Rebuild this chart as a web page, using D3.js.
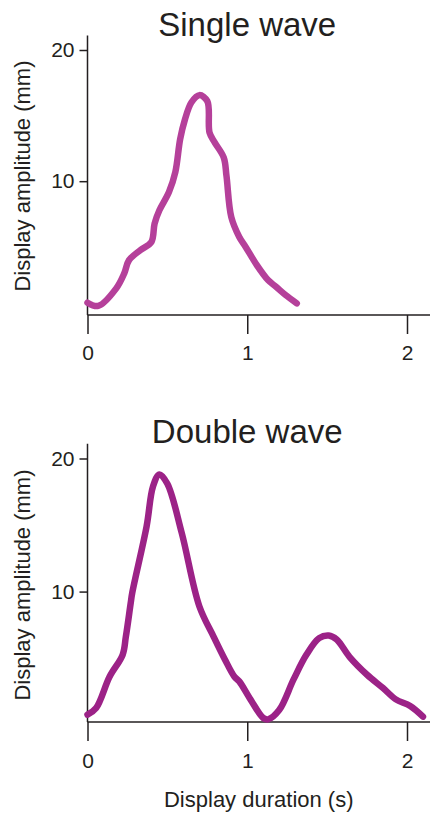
<!DOCTYPE html>
<html>
<head>
<meta charset="utf-8">
<script src="https://cdnjs.cloudflare.com/ajax/libs/d3/7.8.5/d3.min.js"></script>
<style>
  body { margin: 0; background: #fff; }
  svg { display: block; }
</style>
</head>
<body>
<div id="chart"></div>
<script>
// Single wave trace: time (s) and amplitude (mm)
const singleT = [0, 0.067, 0.18, 0.23, 0.26, 0.33, 0.40, 0.42, 0.45, 0.51, 0.55, 0.58, 0.61, 0.65, 0.70, 0.75, 0.764, 0.796, 0.853, 0.87, 0.90, 0.95, 0.99, 1.06, 1.13, 1.18, 1.24, 1.31];
const singleA = [0.74, 0.49, 1.83, 2.97, 3.98, 4.74, 5.37, 6.77, 7.78, 9.17, 10.7, 13.2, 14.7, 16.0, 16.56, 16.1, 13.7, 12.96, 11.8, 10.4, 7.27, 5.75, 4.99, 3.6, 2.46, 1.95, 1.32, 0.69];

// Double wave trace
const doubleT = [0, 0.054, 0.138, 0.22, 0.24, 0.27, 0.28, 0.37, 0.41, 0.45, 0.50, 0.59, 0.70, 0.79, 0.86, 0.92, 0.95, 1.02, 1.10, 1.13, 1.20, 1.29, 1.37, 1.45, 1.51, 1.56, 1.64, 1.75, 1.85, 1.93, 2.02, 2.10];
const doubleA = [0.75, 1.25, 3.6, 5.25, 6.6, 9.1, 9.9, 14.9, 17.9, 18.8, 18.1, 14.4, 8.9, 6.6, 4.9, 3.6, 3.25, 1.9, 0.5, 0.4, 1.1, 3.4, 5.25, 6.5, 6.7, 6.4, 5.1, 3.75, 2.75, 1.9, 1.4, 0.6];

const xTicks = [0, 1, 2];
const yTicks = [10, 20];
const titles = ["Single wave", "Double wave"];
const yLabel = "Display amplitude (mm)";
const xLabel = "Display duration (s)";

const width = 430, height = 815;
const ink = "#231f20";

const svg = d3.select("#chart").append("svg")
  .attr("width", width)
  .attr("height", height);

const x = d3.scaleLinear().domain([0, 2]).range([87.5, 407]);

const panels = [
  { title: titles[0], t: singleT, a: singleA, color: "#b5409a",
    axisY: 315, tick20: 50, yLo: -0.2, titleY: 36, labelY: 176, tickLabelY: 360 },
  { title: titles[1], t: doubleT, a: doubleA, color: "#9c2287",
    axisY: 722, tick20: 458.5, yLo: 0.2, titleY: 443, labelY: 585, tickLabelY: 768 }
];

const font = "'Liberation Sans', Arial, Helvetica, sans-serif";

panels.forEach(p => {
  const y = d3.scaleLinear().domain([p.yLo, 20]).range([p.axisY, p.tick20]);
  const g = svg.append("g");

  // title
  g.append("text")
    .attr("x", x(1))
    .attr("y", p.titleY)
    .attr("text-anchor", "middle")
    .style("font-family", font)
    .style("font-size", "33px")
    .style("fill", ink)
    .text(p.title);

  // y axis
  const yAxis = g.append("g")
    .attr("transform", `translate(${x(0)},0)`)
    .call(d3.axisLeft(y).tickValues(yTicks).tickFormat(d3.format("d"))
      .tickSize(8).tickPadding(5).tickSizeOuter(0));
  yAxis.select(".domain").attr("d", `M0,${y(21.1)}V${p.axisY}`);

  // x axis
  const xAxis = g.append("g")
    .attr("transform", `translate(0,${p.axisY})`)
    .call(d3.axisBottom(x).tickValues(xTicks).tickFormat(d3.format("d"))
      .tickSize(19).tickPadding(8).tickSizeOuter(0));
  xAxis.select(".domain").attr("d", `M${x(0)},0H${width}`);

  [yAxis, xAxis].forEach(ax => {
    ax.selectAll(".domain, line").attr("stroke", ink).attr("stroke-width", 1.5);
    ax.selectAll("text")
      .style("font-family", font)
      .style("font-size", "21px")
      .style("fill", ink);
  });
  xAxis.selectAll("text").attr("y", p.tickLabelY - p.axisY).attr("dy", null);

  // y label
  g.append("text")
    .attr("transform", `translate(30,${p.labelY}) rotate(-90)`)
    .attr("text-anchor", "middle")
    .style("font-family", font)
    .style("font-size", "22px")
    .style("fill", ink)
    .text(yLabel);

  // trace
  const pts = p.t.map((t, i) => [t, p.a[i]]);
  g.append("path")
    .datum(pts)
    .attr("fill", "none")
    .attr("stroke", p.color)
    .attr("stroke-width", 6.5)
    .attr("stroke-linecap", "round")
    .attr("stroke-linejoin", "round")
    .attr("d", d3.line()
      .x(d => x(d[0]))
      .y(d => y(d[1]))
      .curve(d3.curveCatmullRom.alpha(0.5)));
});

// shared x label
svg.append("text")
  .attr("x", (x(0) + width) / 2)
  .attr("y", 807)
  .attr("text-anchor", "middle")
  .style("font-family", font)
  .style("font-size", "22px")
  .style("fill", ink)
  .text(xLabel);
</script>
</body>
</html>
